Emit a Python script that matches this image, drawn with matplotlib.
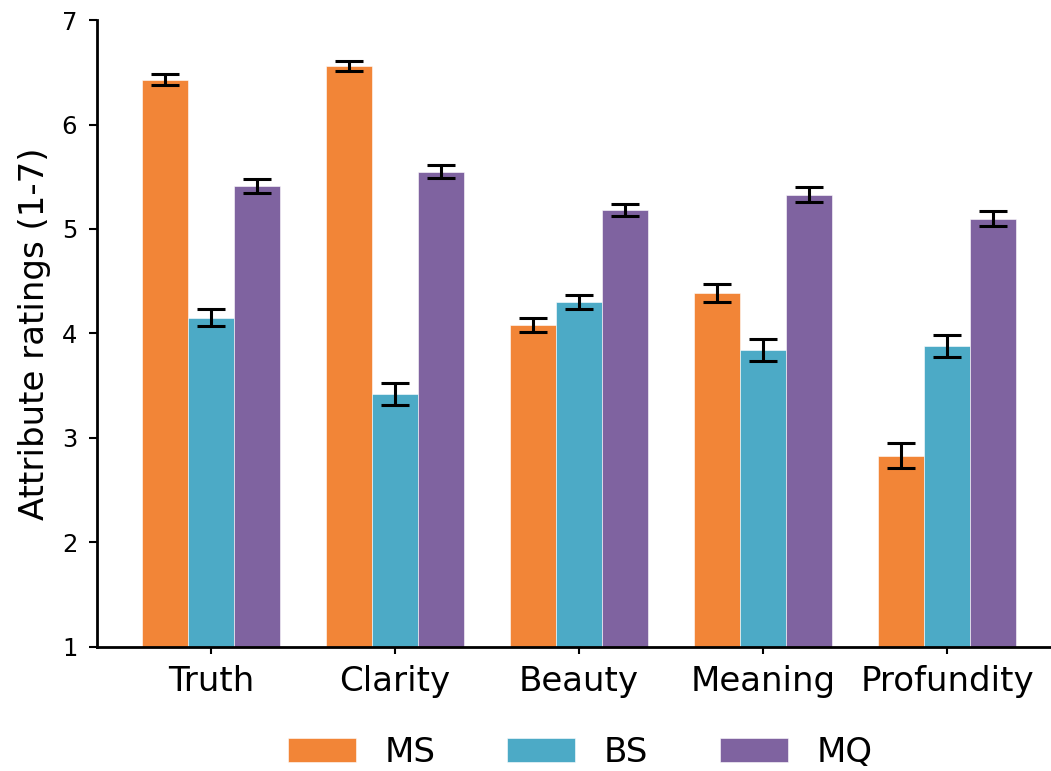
import matplotlib.pyplot as plt
import numpy as np

categories = ['Truth', 'Clarity', 'Beauty', 'Meaning', 'Profundity']
series = ['MS', 'BS', 'MQ']
ms_vals = [6.43, 6.56, 4.08, 4.39, 2.83]
bs_vals = [4.15, 3.42, 4.30, 3.84, 3.88]
mq_vals = [5.41, 5.55, 5.18, 5.33, 5.10]
ms_err = [0.05, 0.045, 0.07, 0.088, 0.118]
bs_err = [0.08, 0.105, 0.07, 0.107, 0.11]
mq_err = [0.065, 0.06, 0.06, 0.072, 0.075]
colors = ['#F28537', '#4CAAC6', '#7F63A0']

fig = plt.figure(figsize=(10.51, 7.71), dpi=100)
ax = fig.add_axes([0.092, 0.161, 0.908, 0.813])

x = np.arange(len(categories))
w = 0.25
vals = [ms_vals, bs_vals, mq_vals]
errs = [ms_err, bs_err, mq_err]
for i in range(3):
    heights = np.array(vals[i]) - 1
    ax.bar(x + (i - 1) * w, heights, w, bottom=1, color=colors[i],
           label=series[i], edgecolor='white', linewidth=0.4,
           yerr=errs[i], capsize=10,
           error_kw=dict(elinewidth=2.2, capthick=2.2, ecolor='black'))

ax.set_ylim(1, 7)
ax.set_xlim(-0.62, 4.565)
ax.set_xticks(x)
ax.set_xticklabels(categories, fontsize=24.5)
ax.tick_params(axis='y', labelsize=17.5, width=1.5, length=6, pad=8)
ax.tick_params(axis='x', width=1.5, length=5, pad=8)
ax.set_ylabel('Attribute ratings (1-7)', fontsize=24.5, labelpad=8)
for s in ['top', 'right']:
    ax.spines[s].set_visible(False)
for s in ['left', 'bottom']:
    ax.spines[s].set_linewidth(2)

fig.legend(loc='center', bbox_to_anchor=(0.552, 0.024), ncol=3,
           frameon=False, fontsize=24.5, handlelength=2.0, handleheight=0.72,
           handletextpad=0.85, columnspacing=2.1)

plt.savefig('out.png', dpi=100)
